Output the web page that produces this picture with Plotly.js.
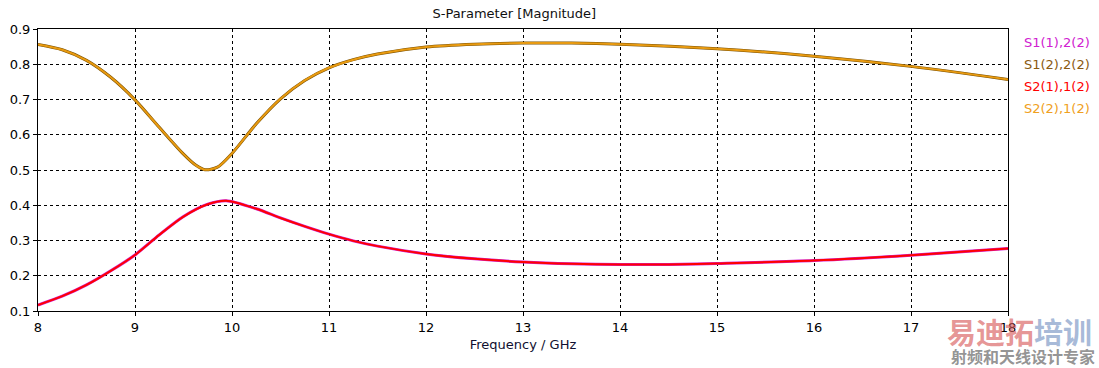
<!DOCTYPE html>
<html><head><meta charset="utf-8">
<script src="https://cdn.plot.ly/plotly-3.0.1.min.js"></script>
<style>html,body{margin:0;padding:0;background:#fff;}#chart{width:1099px;height:368px;}</style>
</head><body><div id="chart"></div>
<script>
const freqRefl = [8, 8.25, 8.5, 8.75, 9, 9.25, 9.5, 9.625, 9.72, 9.85, 10, 10.25, 10.5, 10.75, 11, 11.25, 11.5, 12, 12.5, 13, 13.5, 14, 15, 16, 17, 18];
const s22 = [0.856, 0.841, 0.811, 0.763, 0.699, 0.621, 0.545, 0.514, 0.501, 0.508, 0.547, 0.631, 0.702, 0.754, 0.79, 0.813, 0.829, 0.849, 0.857, 0.86, 0.86, 0.857, 0.844, 0.823, 0.794, 0.757];
const freqTrans = [8, 8.25, 8.5, 8.75, 9, 9.25, 9.5, 9.75, 9.94, 10.25, 10.5, 10.75, 11, 11.25, 11.5, 12, 12.5, 13, 13.5, 14, 14.5, 15, 16, 17, 18];
const s21 = [0.117, 0.142, 0.174, 0.214, 0.259, 0.316, 0.368, 0.403, 0.413, 0.39, 0.364, 0.34, 0.318, 0.299, 0.284, 0.262, 0.248, 0.239, 0.234, 0.232, 0.232, 0.235, 0.243, 0.258, 0.277];
const legendNames = ["S1(1),2(2)", "S1(2),2(2)", "S2(1),1(2)", "S2(2),1(2)"];
const legendColors = ["#d020d0", "#8a5a10", "#ff0000", "#f0a020"];

const traces = [
  {x: freqTrans, y: s21, mode: 'lines', line: {color: '#d020d0', width: 3, shape: 'spline', smoothing: 0.8}, hoverinfo: 'skip'},
  {x: freqTrans, y: s21, mode: 'lines', line: {color: '#ff0000', width: 2, shape: 'spline', smoothing: 0.8}, hoverinfo: 'skip'},
  {x: freqRefl, y: s22, mode: 'lines', line: {color: '#7a5000', width: 3, shape: 'spline', smoothing: 0.8}, hoverinfo: 'skip'},
  {x: freqRefl, y: s22, mode: 'lines', line: {color: '#e89a10', width: 2, shape: 'spline', smoothing: 0.8}, hoverinfo: 'skip'}
];

const annotations = legendNames.map((n, i) => ({
  xref: 'paper', yref: 'paper', x: 1.014, y: 0.951 - i * 0.0775, xanchor: 'left', yanchor: 'middle',
  text: n, showarrow: false, font: {family: 'DejaVu Sans', size: 13, color: legendColors[i]}
}));
annotations.push({xref: 'paper', yref: 'paper', x: 1.0885, y: -0.071, xanchor: 'right', yanchor: 'middle',
  text: '<b><span style="color:rgba(215,90,90,0.65)">易迪拓</span><span style="color:rgba(110,140,190,0.6)">培训</span></b>',
  showarrow: false, font: {family: 'Noto Sans CJK SC', size: 29}});
annotations.push({xref: 'paper', yref: 'paper', x: 1.092, y: -0.158, xanchor: 'right', yanchor: 'middle',
  text: '<b>射频和天线设计专家</b>', showarrow: false, font: {family: 'Noto Sans CJK SC', size: 16, color: 'rgba(120,120,120,0.8)'}});

const layout = {
  width: 1099, height: 368,
  margin: {l: 38, r: 91, t: 29, b: 57},
  paper_bgcolor: '#fff', plot_bgcolor: '#fff',
  showlegend: false,
  title: {text: 'S-Parameter [Magnitude]', x: 0.468, xanchor: 'center', y: 0.975, yanchor: 'top',
    font: {family: 'DejaVu Sans', size: 13, color: '#101010'}},
  xaxis: {range: [8, 18], dtick: 1, tick0: 8, showgrid: true, gridcolor: '#000', griddash: '3px,3px', gridwidth: 1,
    showline: true, linecolor: '#000', linewidth: 1, mirror: true, zeroline: false,
    ticks: 'outside', ticklen: 4, tickcolor: '#000',
    tickfont: {family: 'DejaVu Sans', size: 13, color: '#000'},
    title: {text: 'Frequency / GHz', standoff: 6, font: {family: 'DejaVu Sans', size: 13, color: '#101030'}}},
  yaxis: {range: [0.1, 0.9], dtick: 0.1, tick0: 0.1, tickformat: '.1f', showgrid: true, gridcolor: '#000', griddash: '3px,3px', gridwidth: 1,
    showline: true, linecolor: '#000', linewidth: 1, mirror: true, zeroline: false,
    ticks: 'outside', ticklen: 4, tickcolor: '#000',
    tickfont: {family: 'DejaVu Sans', size: 13, color: '#000'}},
  annotations: annotations
};
Plotly.newPlot('chart', traces, layout, {staticPlot: true});
</script></body></html>
